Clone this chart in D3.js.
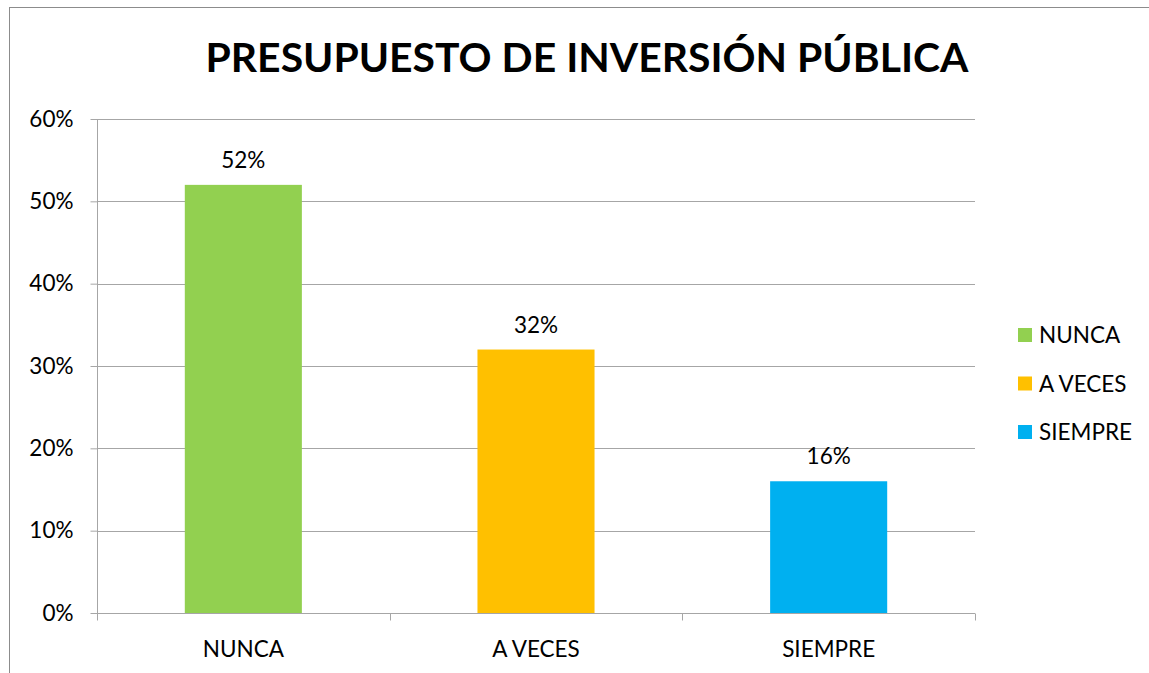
<!DOCTYPE html>
<html>
<head>
<meta charset="utf-8">
<script src="https://cdn.jsdelivr.net/npm/d3@7"></script>
<style>
  body { margin: 0; background: #fff; }
  text { font-family: Lato, "Open Sans", sans-serif; fill: #000; }
</style>
</head>
<body>
<div id="chart"></div>
<script>
const categories = ["NUNCA", "A VECES", "SIEMPRE"];
const values = [0.52, 0.32, 0.16];
const colors = ["#92D050", "#FFC000", "#00B0F0"];
const yTicks = [0, 0.1, 0.2, 0.3, 0.4, 0.5, 0.6];
const title = "PRESUPUESTO DE INVERSIÓN PÚBLICA";

const W = 1149, H = 673;
const margin = {top: 119, right: 174, bottom: 60, left: 97};
const width = W - margin.left - margin.right,
      height = H - margin.top - margin.bottom;
const fs = 22.5;

const svg = d3.select("#chart").append("svg")
    .attr("width", W)
    .attr("height", H);

// outer chart frame
svg.append("rect")
    .attr("x", 9.5).attr("y", 7.5)
    .attr("width", W + 20).attr("height", H + 20)
    .attr("fill", "none")
    .attr("stroke", "#8c8c8c")
    .attr("stroke-width", 1);

svg.append("text")
    .attr("x", 587)
    .attr("y", 72)
    .attr("text-anchor", "middle")
    .attr("font-weight", "bold")
    .attr("font-size", 41)
    .attr("textLength", 763)
    .attr("lengthAdjust", "spacingAndGlyphs")
    .text(title);

const g = svg.append("g")
    .attr("transform", `translate(${margin.left},${margin.top})`);

const x = d3.scaleBand()
    .domain(categories)
    .range([0, width])
    .paddingInner(0.6)
    .paddingOuter(0.3);

const y = d3.scaleLinear()
    .domain([0, 0.6])
    .range([height, 0]);

// gridlines
g.append("g")
    .selectAll("line")
    .data(yTicks)
    .enter().append("line")
    .attr("x1", 0).attr("x2", width)
    .attr("y1", d => Math.round(y(d)) + 0.5)
    .attr("y2", d => Math.round(y(d)) + 0.5)
    .attr("stroke", "#a6a6a6");

// y axis
const yAxis = d3.axisLeft(y)
    .tickValues(yTicks)
    .tickFormat(d3.format(".0%"))
    .tickSize(7)
    .tickPadding(17);

g.append("g")
    .attr("transform", "translate(0.5,0)")
    .call(yAxis)
    .call(a => a.selectAll("line, path").attr("stroke", "#a6a6a6"))
    .call(a => a.select(".domain").attr("d", `M0,0V${height}`))
    .selectAll("text")
    .attr("font-size", fs)
    .attr("font-family", "Lato, sans-serif");

// x axis with ticks at category boundaries
const bounds = d3.range(categories.length + 1).map(i => i * width / categories.length);
const xg = g.append("g")
    .attr("transform", `translate(0,${Math.round(height) + 0.5})`);
xg.append("line")
    .attr("x1", 0).attr("x2", width)
    .attr("stroke", "#a6a6a6");
xg.selectAll(".tk")
    .data(bounds)
    .enter().append("line")
    .attr("x1", d => Math.round(d) + 0.5).attr("x2", d => Math.round(d) + 0.5)
    .attr("y1", 0).attr("y2", 7)
    .attr("stroke", "#a6a6a6");
xg.selectAll("text")
    .data(categories)
    .enter().append("text")
    .attr("x", d => x(d) + x.bandwidth() / 2)
    .attr("y", 43)
    .attr("text-anchor", "middle")
    .attr("font-size", fs)
    .text(d => d);

// bars
g.selectAll(".bar")
    .data(categories)
    .enter().append("rect")
    .attr("class", "bar")
    .attr("x", d => x(d))
    .attr("y", (d, i) => y(values[i]))
    .attr("width", x.bandwidth())
    .attr("height", (d, i) => height - y(values[i]))
    .attr("fill", (d, i) => colors[i]);

// labels
g.selectAll(".lbl")
    .data(categories)
    .enter().append("text")
    .attr("x", d => x(d) + x.bandwidth() / 2)
    .attr("y", (d, i) => y(values[i]) - 17)
    .attr("text-anchor", "middle")
    .attr("font-size", fs)
    .text((d, i) => d3.format(".0%")(values[i]));

// legend
const legend = svg.append("g")
    .attr("transform", "translate(1018,328)");
legend.selectAll("rect")
    .data(categories)
    .enter().append("rect")
    .attr("x", 0)
    .attr("y", (d, i) => i * 48.5)
    .attr("width", 14).attr("height", 14)
    .attr("fill", (d, i) => colors[i]);
legend.selectAll("text")
    .data(categories)
    .enter().append("text")
    .attr("x", 21)
    .attr("y", (d, i) => i * 48.5 + 7)
    .attr("dy", "0.36em")
    .attr("font-size", fs)
    .text(d => d);
</script>
</body>
</html>
